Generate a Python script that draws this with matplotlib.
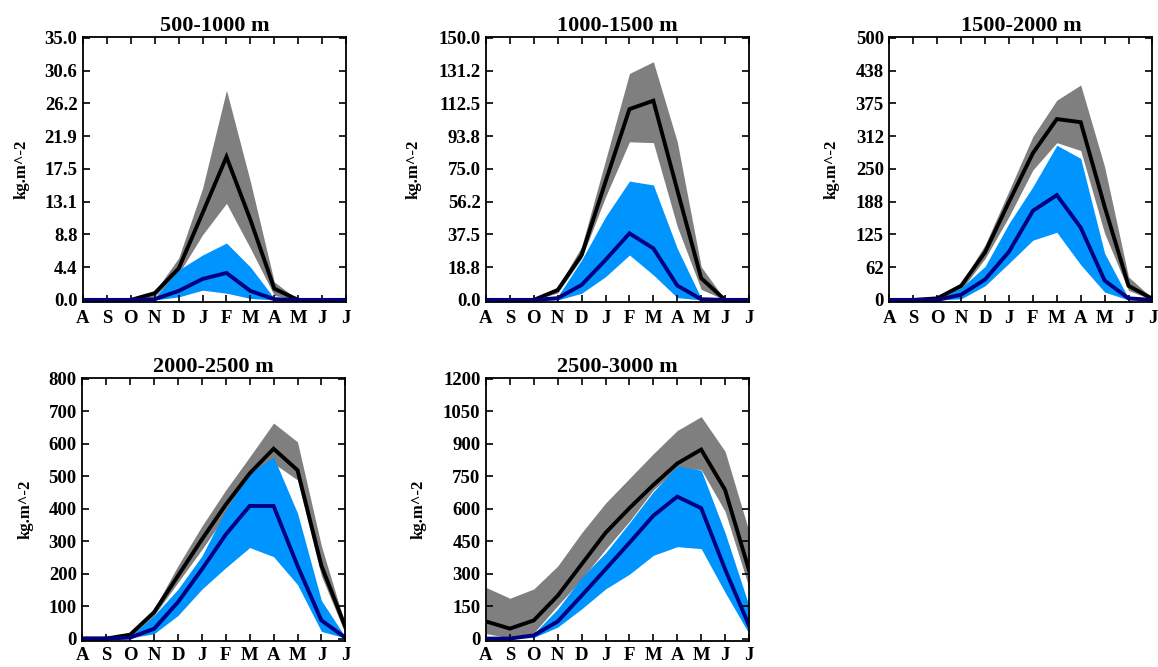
import numpy as np
import matplotlib
matplotlib.use("Agg")
import matplotlib.pyplot as plt

months = ['A', 'S', 'O', 'N', 'D', 'J', 'F', 'M', 'A', 'M', 'J', 'J']
titles = ['500-1000 m', '1000-1500 m', '1500-2000 m', '2000-2500 m', '2500-3000 m']
ymaxs = [35.0, 150.0, 500.0, 800.0, 1200.0]
tick_fmts = ['%.1f', '%.1f', '%.0f', '%.0f', '%.0f']

# 500-1000 m
p1_black = [0, 0, 0, 0.9, 4.2, 11.6, 19.1, 10.7, 1.5, 0, 0, 0]
p1_grey_hi = [0, 0, 0, 1.1, 5.6, 14.9, 28.0, 15.8, 2.4, 0, 0, 0]
p1_grey_lo = [0, 0, 0, 0.5, 3.5, 8.7, 12.9, 6.9, 0.6, 0, 0, 0]
p1_navy = [0, 0, 0, 0.1, 1.2, 2.8, 3.6, 1.2, 0.1, 0, 0, 0]
p1_blue_hi = [0, 0, 0, 0.3, 4.0, 6.0, 7.6, 4.4, 0.2, 0, 0, 0]
p1_blue_lo = [0, 0, 0, 0, 0.4, 1.3, 0.9, 0.2, 0, 0, 0, 0]

# 1000-1500 m
p2_black = [0, 0, 0, 5.7, 25.7, 67.7, 109.2, 114.0, 62.9, 12.4, 0, 0]
p2_grey_hi = [0, 0, 0, 7.2, 30.5, 80.0, 129.6, 136.3, 90.5, 19.0, 0, 0]
p2_grey_lo = [0, 0, 0, 4.0, 23.8, 59.0, 90.5, 90.0, 42.0, 6.0, 0, 0]
p2_navy = [0, 0, 0, 1.0, 8.6, 22.9, 38.1, 29.5, 8.2, 0.4, 0, 0]
p2_blue_hi = [0, 0, 0, 2.0, 22.9, 47.6, 68.0, 65.8, 29.5, 1.0, 0, 0]
p2_blue_lo = [0, 0, 0, 0, 3.8, 13.3, 25.7, 14.3, 1.3, 0, 0, 0]

# 1500-2000 m
p3_black = [0, 0, 3, 27, 91, 187, 280, 345, 339, 178, 27, 2]
p3_grey_hi = [0, 0, 3, 32, 105, 208, 312, 381, 410, 254, 44, 3]
p3_grey_lo = [0, 0, 2, 19, 79, 159, 248, 300, 285, 127, 18, 0]
p3_navy = [0, 0, 0, 10, 39, 92, 170, 200, 138, 37, 3, 0]
p3_blue_hi = [0, 0, 1, 23, 64, 146, 216, 295, 270, 89, 3, 0]
p3_blue_lo = [0, 0, 0, 2, 27, 70, 114, 129, 67, 15, 0, 0]

# 2000-2500 m
p4_black = [0, 0, 12, 81, 193, 305, 412, 508, 584, 518, 224, 36]
p4_grey_hi = [0, 0, 15, 91, 224, 346, 457, 559, 663, 605, 285, 41]
p4_grey_lo = [0, 0, 5, 71, 173, 274, 381, 488, 539, 488, 193, 15]
p4_navy = [0, 0, 3, 30, 112, 213, 320, 408, 408, 224, 56, 3]
p4_blue_hi = [0, 0, 7, 71, 152, 254, 396, 508, 559, 386, 117, 5]
p4_blue_lo = [0, 0, 2, 15, 71, 152, 218, 280, 252, 166, 22, 2]

# 2500-3000 m
p5_black = [79, 46, 84, 198, 343, 488, 602, 709, 808, 872, 686, 316]
p5_grey_hi = [236, 186, 229, 335, 488, 625, 739, 853, 960, 1024, 864, 495]
p5_grey_lo = [23, 3, 27, 152, 274, 412, 541, 686, 785, 780, 587, 236]
p5_navy = [0, 0, 15, 79, 198, 320, 442, 567, 655, 602, 320, 61]
p5_blue_hi = [0, 0, 23, 137, 282, 396, 534, 678, 796, 777, 488, 152]
p5_blue_lo = [0, 0, 5, 53, 137, 229, 297, 384, 424, 415, 213, 23]

panels = [
    (p1_black, p1_grey_lo, p1_grey_hi, p1_navy, p1_blue_lo, p1_blue_hi),
    (p2_black, p2_grey_lo, p2_grey_hi, p2_navy, p2_blue_lo, p2_blue_hi),
    (p3_black, p3_grey_lo, p3_grey_hi, p3_navy, p3_blue_lo, p3_blue_hi),
    (p4_black, p4_grey_lo, p4_grey_hi, p4_navy, p4_blue_lo, p4_blue_hi),
    (p5_black, p5_grey_lo, p5_grey_hi, p5_navy, p5_blue_lo, p5_blue_hi),
]

# axes boxes in figure fractions [left, bottom, width, height]
boxes = [
    [0.0717, 0.5472, 0.2271, 0.3973],
    [0.4197, 0.5472, 0.2271, 0.3973],
    [0.7681, 0.5472, 0.2271, 0.3973],
    [0.0711, 0.0395, 0.2271, 0.3942],
    [0.4197, 0.0395, 0.2271, 0.3942],
]
ylabel_x = [-0.205, -0.245, -0.19, -0.185, -0.225]

plt.rcParams['font.family'] = ['Liberation Serif', 'DejaVu Serif']
plt.rcParams['font.weight'] = 'bold'

fig = plt.figure(figsize=(11.58, 6.67), dpi=100)
x = np.arange(len(months))

for i, (black, glo, ghi, navy, blo, bhi) in enumerate(panels):
    ax = fig.add_axes(boxes[i])
    ax.fill_between(x, glo, ghi, color='#7f7f7f', linewidth=0)
    ax.fill_between(x, blo, bhi, color='#0094ff', linewidth=0)
    ax.plot(x, black, color='black', lw=2.8, solid_joinstyle='miter')
    ax.plot(x, navy, color='#000080', lw=2.8, solid_joinstyle='miter')

    ymax = ymaxs[i]
    ax.set_xlim(0, len(months) - 1)
    ax.set_ylim(-0.008 * ymax, ymax * 1.003)
    ticks = np.linspace(0, ymax, 9)
    ax.set_yticks(ticks)
    ax.set_yticklabels([tick_fmts[i] % t for t in ticks])
    ax.set_xticks(x)
    ax.set_xticklabels(months)
    ax.tick_params(direction='in', top=True, right=True, length=5, width=1.2,
                   labelsize=13.5)
    ax.tick_params(axis='x', pad=6 if i < 3 else 4.5)
    ax.tick_params(axis='y', pad=4)
    for lab in ax.get_xticklabels() + ax.get_yticklabels():
        lab.set_fontweight('bold')
    for s in ax.spines.values():
        s.set_linewidth(1.3)
    ax.set_title(titles[i], fontsize=16, fontweight='bold', pad=4)
    ax.set_ylabel('kg.m^-2', fontsize=12, fontweight='bold')
    ax.yaxis.set_label_coords(ylabel_x[i], 0.5)

fig.savefig('out.png', dpi=100)
